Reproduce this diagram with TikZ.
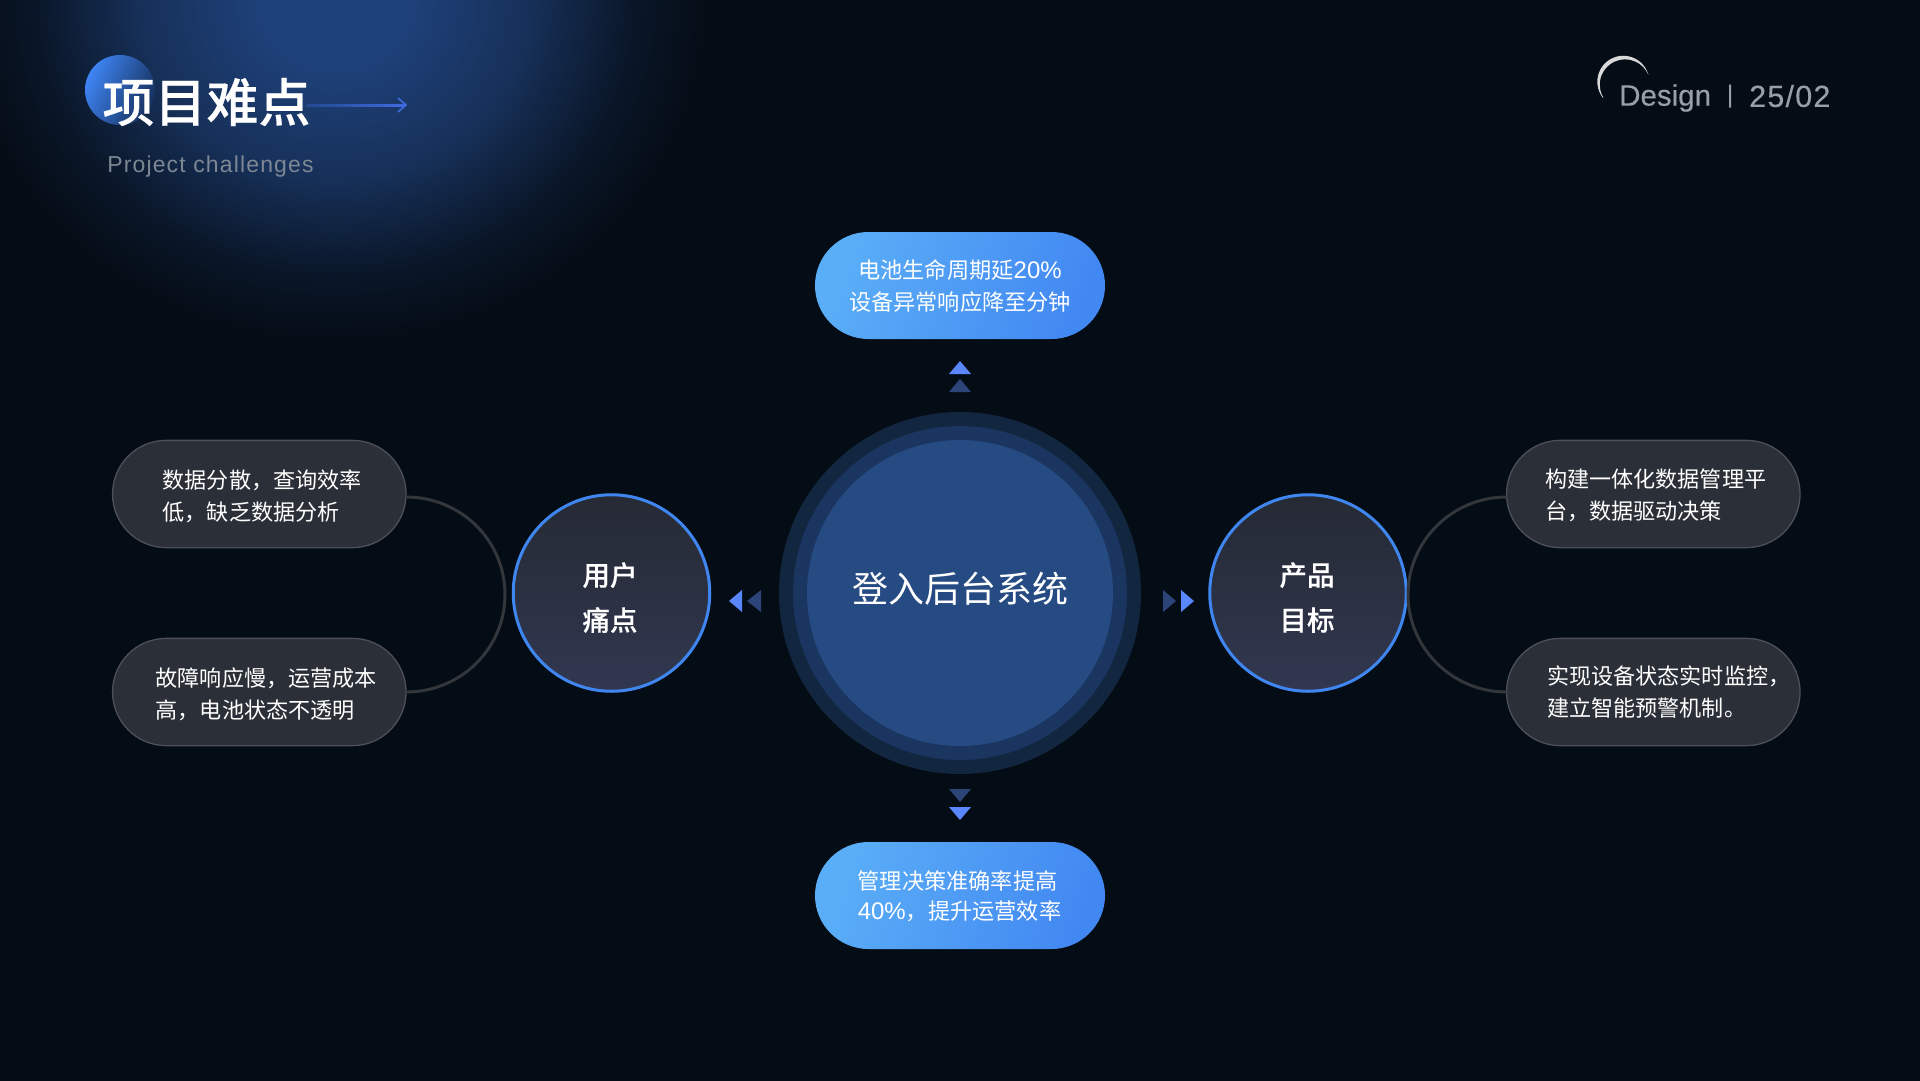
\documentclass[tikz,border=0pt]{standalone}
\usepackage{fontspec}
\setmainfont{Noto Sans CJK SC}
\newfontfamily\cjkmed[FakeBold=0.3]{Noto Sans CJK SC Medium}
\newfontfamily\latinfont[FakeBold=0.25]{Liberation Sans}
\newfontfamily\pctfont{Liberation Sans}
\newfontfamily\subfont[LetterSpace=5]{Liberation Sans}
\newfontfamily\datefont[LetterSpace=4,FakeBold=0.25]{Liberation Sans}
\usetikzlibrary{shapes.misc,calc}
\definecolor{bgc}{HTML}{040C15}
\definecolor{glowc}{HTML}{1E4079}
\definecolor{glowm}{HTML}{163058}
\definecolor{glown}{HTML}{0A1628}
\definecolor{ringa}{HTML}{122640}
\definecolor{ringb}{HTML}{1A3560}
\definecolor{ringc}{HTML}{264A82}
\definecolor{pilld}{HTML}{2B2F37}
\definecolor{pillb}{HTML}{4D5057}
\definecolor{edgeb}{HTML}{3F86F0}
\definecolor{conn}{HTML}{33363B}
\definecolor{triB}{HTML}{5A86FB}
\definecolor{triD}{HTML}{2C4478}
\definecolor{greyt}{HTML}{9A9EA6}
\definecolor{subt}{HTML}{7E8794}
\definecolor{blueA}{HTML}{5AAEF7}
\definecolor{blueB}{HTML}{4288F2}
\definecolor{hubA}{HTML}{252A34}
\definecolor{hubB}{HTML}{313750}
\definecolor{arrowc}{HTML}{3F6BE0}
\definecolor{arrowd}{HTML}{23498F}
\definecolor{ballA}{HTML}{3F85F5}
\definecolor{ballM}{HTML}{264F98}
\definecolor{ballB}{HTML}{16305C}
\definecolor{moon}{HTML}{D8D8D8}
\pgfdeclareradialshading{glowshade}{\pgfpoint{0bp}{0bp}}{
  color(0bp)=(glowc);color(5bp)=(glowc);color(13bp)=(glowm);color(20bp)=(glown);color(25bp)=(bgc);color(50bp)=(bgc)}
\tikzset{
  softpill/.style={rounded rectangle,minimum width=293.5pt,minimum height=107.3pt,inner sep=0pt,outer sep=0pt,fill=pilld,draw=pillb,line width=1.3pt},
  bluepill/.style={rounded rectangle,minimum width=290pt,minimum height=107pt,inner sep=0pt,outer sep=0pt,left color=blueA,right color=blueB,shading angle=70},
  hubcircle/.style={circle,minimum size=196.5pt,inner sep=0pt,outer sep=0pt,top color=hubA,bottom color=hubB,draw=edgeb,line width=3pt},
  pilltext/.style={text=white,align=left,inner sep=0pt,font=\fontsize{22.1}{32}\selectfont},
  bluetext/.style={text=white,align=left,inner sep=0pt,font=\fontsize{22.2}{32}\selectfont},
  hubtext/.style={text=white,align=center,inner sep=0pt,font=\cjkmed\fontsize{27.5}{45}\selectfont},
  ringdisc/.style={circle,inner sep=0pt,outer sep=0pt},
  linkline/.style={draw=conn,line width=3pt},
  tribright/.style={fill=triB},
  tridark/.style={fill=triD},
}
\newcommand{\pctnum}[1]{{\pctfont\fontsize{24}{32}\selectfont #1}}
\begin{document}
\begin{tikzpicture}[x=1pt,y=-1pt]
\useasboundingbox (0,0) rectangle (1920,1080);
\fill[bgc] (-2,-2) rectangle (1922,1082);
\begin{scope}
  \clip (0,0) rectangle (1920,1080);
  \shade[shading=glowshade] (335,0) ellipse [x radius=375,y radius=345];
\end{scope}
% title decoration
\shade[top color=ballA,middle color=ballM,bottom color=ballB,shading angle=65] (120,90) circle [radius=35];
\node[text=white,anchor=center,inner sep=0pt,font=\cjkmed\fontsize{52}{60}\selectfont] (title) at (206.5,102) {项目难点};
\node[text=subt,anchor=center,inner sep=0pt,font=\subfont\fontsize{23}{28}\selectfont] (subtitle) at (210.5,167) {Project challenges};
\coordinate (arrowtip) at (406,105);
\shade[left color=arrowd,right color=arrowc] (306,104) rectangle (405,106);
\draw[arrowc,line width=1.6pt,line join=miter] (398,98) -- (arrowtip) -- (398,112);
% top right mark
\fill[moon] (1603,98) arc [start angle=-218.7,end angle=-15.6,radius=26] arc [start angle=-23,end angle=-211.1,radius=25.3] -- cycle;
\node[text=greyt,anchor=west,inner sep=0pt,font=\latinfont\fontsize{29.5}{34}\selectfont] (design) at (1619,98) {Design};
\node[text=greyt,anchor=center,inner sep=0pt,font=\latinfont\fontsize{24}{30}\selectfont] (bar) at (1730,96) {|};
\node[text=greyt,anchor=west,inner sep=0pt,font=\datefont\fontsize{30.5}{34}\selectfont] (date) at (1749,96) {25/02};
% centre
\node[ringdisc,fill=ringa,minimum size=362pt] (ringout) at (960,593) {};
\node[ringdisc,fill=ringb,minimum size=334pt] (ringmid) at (960,593) {};
\node[ringdisc,fill=ringc,minimum size=306pt] (core) at (960,593) {};
\node[text=white,inner sep=0pt,font=\fontsize{36}{44}\selectfont] (coret) at (960,589) {登入后台系统};
% blue pills
\node[bluepill] (ptop) at (960,285.5) {};
\node[bluetext,align=center] (ttop) at (960,286) {电池生命周期延\pctnum{20\%}\\设备异常响应降至分钟};
\node[bluepill] (pbot) at (960,895.5) {};
\node[bluetext,font=\fontsize{22.2}{30}\selectfont] (tbot) at (959.5,896) {管理决策准确率提高\\\pctnum{40\%}，提升运营效率};
% side hubs
\node[hubcircle] (huba) at (611.5,593) {};
\node[hubtext] (hubat) at (610,597.5) {用户\\痛点};
\node[hubcircle] (hubb) at (1308,593) {};
\node[hubtext] (hubbt) at (1307,597.5) {产品\\目标};
% soft pills
\node[softpill] (la) at (259.3,494) {};
\node[softpill] (lb) at (259.3,692) {};
\node[softpill] (ra) at (1653.3,494) {};
\node[softpill] (rb) at (1653.3,692) {};
\node[pilltext,anchor=west] (lat) at (162.5,496) {数据分散，查询效率\\低，缺乏数据分析};
\node[pilltext,anchor=west] (lbt) at (155.5,694) {故障响应慢，运营成本\\高，电池状态不透明};
\node[pilltext,anchor=west] (rat) at (1545,495) {构建一体化数据管理平\\台，数据驱动决策};
\node[pilltext,anchor=west] (rbt) at (1547,692.5) {实现设备状态实时监控，\\建立智能预警机制。};
% connectors
\coordinate (lbend) at (505,594.5);
\coordinate (rbend) at (1408,594.5);
\draw[linkline] ([yshift=-3pt]la.east) .. controls +(55,0) and +(0,-53.8) .. (lbend) .. controls +(0,53.8) and +(55,0) .. (lb.east);
\draw[linkline] ([yshift=-3pt]ra.west) .. controls +(-54,0) and +(0,-53.8) .. (rbend) .. controls +(0,53.8) and +(-54,0) .. (rb.west);
% arrow triangles
\fill[tribright] (960,361) -- (971,374) -- (949,374) -- cycle;
\fill[tridark] (960,379) -- (971,392) -- (949,392) -- cycle;
\fill[tridark] (960,802) -- (971,789) -- (949,789) -- cycle;
\fill[tribright] (960,820) -- (971,807) -- (949,807) -- cycle;
\fill[tribright] (729,601) -- (742,590) -- (742,612) -- cycle;
\fill[tridark] (747,601) -- (761,590) -- (761,612) -- cycle;
\fill[tridark] (1176,601) -- (1163,590) -- (1163,612) -- cycle;
\fill[tribright] (1194,601) -- (1181,590) -- (1181,612) -- cycle;
\end{tikzpicture}
\end{document}
